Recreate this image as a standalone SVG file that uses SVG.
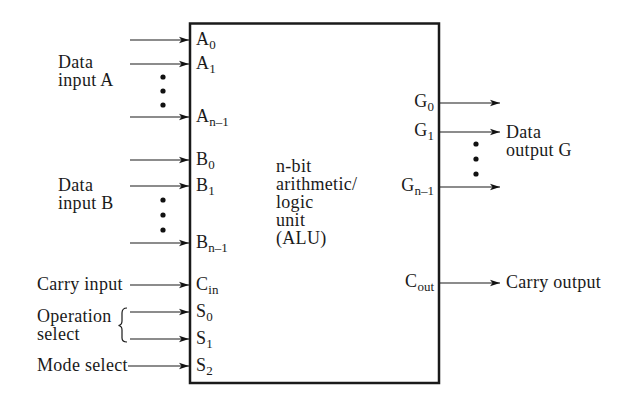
<svg xmlns="http://www.w3.org/2000/svg" width="644" height="414" viewBox="0 0 644 414">
<style>
text{font-family:"Liberation Serif","Times New Roman",serif;font-size:18px;fill:#1a1a1a;letter-spacing:0.3px}
.sub{font-size:13px;letter-spacing:0}
.w{stroke:#1a1a1a;stroke-width:1.2;fill:none}
.dot{fill:#111}
.e{text-anchor:end}
</style>
<defs>
<marker id="ah" markerUnits="userSpaceOnUse" markerWidth="11" markerHeight="8" refX="10" refY="4" orient="auto">
<path d="M0,0.8 L10,4 L0,7.2 L2.5,4 z" fill="#111"/>
</marker>
</defs>
<rect width="644" height="414" fill="#fff"/>
<g id="alu">
<rect x="190" y="23.5" width="249" height="359.5" fill="#fff" stroke="#1a1a1a" stroke-width="2.5"/>
<text x="276" y="172">n-bit</text>
<text x="276" y="190">arithmetic/</text>
<text x="276" y="208">logic</text>
<text x="276" y="226">unit</text>
<text x="276" y="244">(ALU)</text>
</g>
<g id="connectors">
<line class="w" x1="130" y1="40" x2="189" y2="40" marker-end="url(#ah)"/>
<line class="w" x1="130" y1="64" x2="189" y2="64" marker-end="url(#ah)"/>
<line class="w" x1="130" y1="117" x2="189" y2="117" marker-end="url(#ah)"/>
<line class="w" x1="130" y1="160" x2="189" y2="160" marker-end="url(#ah)"/>
<line class="w" x1="130" y1="186" x2="189" y2="186" marker-end="url(#ah)"/>
<line class="w" x1="130" y1="243" x2="189" y2="243" marker-end="url(#ah)"/>
<line class="w" x1="130" y1="285" x2="189" y2="285" marker-end="url(#ah)"/>
<line class="w" x1="130" y1="312" x2="189" y2="312" marker-end="url(#ah)"/>
<line class="w" x1="130" y1="339" x2="189" y2="339" marker-end="url(#ah)"/>
<line class="w" x1="128" y1="366" x2="189" y2="366" marker-end="url(#ah)"/>
<line class="w" x1="440" y1="103" x2="500" y2="103" marker-end="url(#ah)"/>
<line class="w" x1="440" y1="132" x2="500" y2="132" marker-end="url(#ah)"/>
<line class="w" x1="440" y1="187" x2="500" y2="187" marker-end="url(#ah)"/>
<line class="w" x1="440" y1="283" x2="500" y2="283" marker-end="url(#ah)"/>
</g>
<g id="input-a">
<text x="58" y="68">Data</text>
<text x="58" y="86">input A</text>
<circle class="dot" cx="163" cy="77" r="2.6"/>
<circle class="dot" cx="163" cy="91" r="2.6"/>
<circle class="dot" cx="163" cy="105" r="2.6"/>
<text x="196" y="45">A<tspan class="sub" dy="4">0</tspan></text>
<text x="196" y="69">A<tspan class="sub" dy="4">1</tspan></text>
<text x="196" y="122">A<tspan class="sub" dy="4">n–1</tspan></text>
</g>
<g id="input-b">
<text x="58" y="191">Data</text>
<text x="58" y="209">input B</text>
<circle class="dot" cx="163" cy="200" r="2.6"/>
<circle class="dot" cx="163" cy="215" r="2.6"/>
<circle class="dot" cx="163" cy="230" r="2.6"/>
<text x="196" y="165">B<tspan class="sub" dy="4">0</tspan></text>
<text x="196" y="191">B<tspan class="sub" dy="4">1</tspan></text>
<text x="196" y="248">B<tspan class="sub" dy="4">n–1</tspan></text>
</g>
<g id="carry-in">
<text x="37" y="290">Carry input</text>
<text x="196" y="290">C<tspan class="sub" dy="4">in</tspan></text>
</g>
<g id="op-select">
<text x="37" y="322">Operation</text>
<text x="37" y="340">select</text>
<path class="w" d="M127,308 Q122,308 122,313 L122,321 Q122,325 118.5,325.5 Q122,326 122,330 L122,338 Q122,342 127,342"/>
<text x="196" y="317">S<tspan class="sub" dy="4">0</tspan></text>
<text x="196" y="344">S<tspan class="sub" dy="4">1</tspan></text>
</g>
<g id="mode-select">
<text x="37" y="371">Mode select</text>
<text x="196" y="371">S<tspan class="sub" dy="4">2</tspan></text>
</g>
<g id="output-g">
<text class="e" x="434" y="107">G<tspan class="sub" dy="4">0</tspan></text>
<text class="e" x="434" y="136">G<tspan class="sub" dy="4">1</tspan></text>
<text class="e" x="434" y="191">G<tspan class="sub" dy="4">n–1</tspan></text>
<circle class="dot" cx="476" cy="144" r="2.6"/>
<circle class="dot" cx="476" cy="159" r="2.6"/>
<circle class="dot" cx="476" cy="174" r="2.6"/>
<text x="506" y="138">Data</text>
<text x="506" y="156">output G</text>
</g>
<g id="carry-out">
<text class="e" x="434" y="287">C<tspan class="sub" dy="4">out</tspan></text>
<text x="506" y="288">Carry output</text>
</g>
</svg>
